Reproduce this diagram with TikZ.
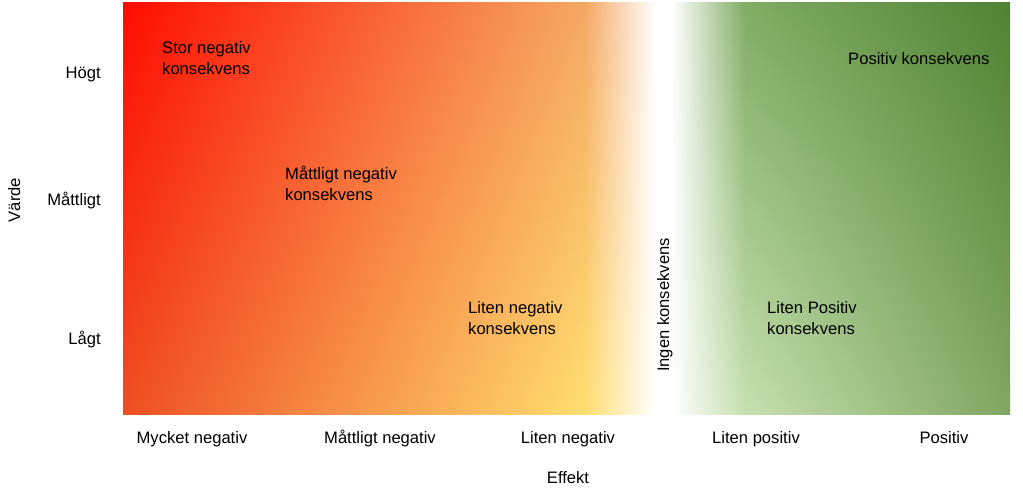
\documentclass[tikz,border=0pt]{standalone}
\usepackage{fontspec}
\setmainfont{Liberation Sans}
\usetikzlibrary{shadings}

\definecolor{negTL}{RGB}{255,12,0}
\definecolor{negTR}{RGB}{244,168,100}
\definecolor{negBL}{RGB}{238,78,35}
\definecolor{negBR}{RGB}{255,222,112}
\definecolor{posTL}{RGB}{128,172,100}
\definecolor{posTR}{RGB}{80,130,50}
\definecolor{posBL}{RGB}{198,224,176}
\definecolor{posBR}{RGB}{128,166,98}

\begin{document}
\begin{tikzpicture}[x=1pt,y=-1pt,
    lbl/.style={font=\fontsize{16.6}{21}\selectfont,inner sep=0pt},
    ylabel/.style={lbl,anchor=base east},
    xlabel/.style={lbl,anchor=base},
    field/.style={lbl,anchor=base west,align=left}
    ]
  \useasboundingbox (0,0) rectangle (1023,488);

  % negative side
  \shade[upper left=negTL,upper right=negTR,lower left=negBL,lower right=negBR] (123,2) rectangle (585,414);
  \shade[upper left=negTR,upper right=white,lower left=negBR,lower right=white] (584.5,2) rectangle (655,414);
  \fill[white] (655,2) rectangle (672,414);

  % positive side
  \shade[upper left=white,upper right=posTL,lower left=white,lower right=posBL] (672,2) rectangle (745.5,414);
  \shade[upper left=posTL,upper right=posTR,lower left=posBL,lower right=posBR] (745,2) rectangle (1010,414);

  % value axis
  \node(varde) [lbl,anchor=base,rotate=90] at (20,200) {Värde};
  \node(hogt) [ylabel] at (101,78) {Högt};
  \node(mattligt) [ylabel] at (101,205) {Måttligt};
  \node(lagt) [ylabel] at (101,344) {Lågt};

  % effect axis
  \node(mycketneg) [xlabel] at (192,443) {Mycket negativ};
  \node(mattligtneg) [xlabel] at (380,443) {Måttligt negativ};
  \node(litenneg) [xlabel] at (568,443) {Liten negativ};
  \node(litenpos) [xlabel] at (756,443) {Liten positiv};
  \node(positiv) [xlabel] at (944,443) {Positiv};
  \node(effekt) [xlabel] at (568,483) {Effekt};

  % consequences
  \node(stor) [field] at (162,74) {Stor negativ\\konsekvens};
  \node(mattlig) [field] at (285,200) {Måttligt negativ\\konsekvens};
  \node(liten) [field] at (468,334) {Liten negativ\\konsekvens};
  \node(ingen) [lbl,anchor=base,rotate=90] at (669,305) {Ingen konsekvens};
  \node(litenp) [field] at (767,334) {Liten Positiv\\konsekvens};
  \node(pos) [field] at (848,64) {Positiv konsekvens};

\end{tikzpicture}
\end{document}
